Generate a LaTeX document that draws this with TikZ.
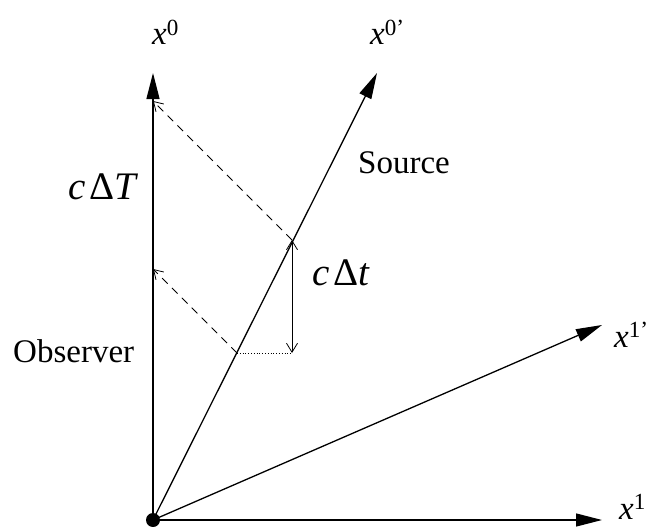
\documentclass[tikz,border=0pt]{standalone}
\usepackage{fontspec}
\setmainfont{Liberation Serif}
\usetikzlibrary{arrows.meta}
\begin{document}
\begin{tikzpicture}[x=1pt,y=-1pt,
  axis/.style={line width=1.3pt,-{Triangle[length=26pt,width=13pt]}},
  light/.style={line width=0.8pt,-{Straight Barb[length=9pt,width=11pt]}},
  lbl/.style={inner sep=0pt,anchor=base west,font=\fontsize{33}{40}\selectfont},
  big/.style={inner sep=0pt,anchor=base west,font=\fontsize{39}{46}\selectfont}]
\useasboundingbox (0,0) rectangle (648,527);
\coordinate (O) at (153,520);
\coordinate (t0) at (153,73);
\coordinate (t1) at (602,520);
\coordinate (t0p) at (377,73);
\coordinate (t1p) at (602,325);
\coordinate (A) at (292,240);
\coordinate (B) at (237,353);
\coordinate (Bv) at (292,353);
\coordinate (RA) at (153,101);
\coordinate (RB) at (153,269);
\draw[axis] (O) -- (t0);
\draw[axis] (O) -- (t1);
\draw[axis] (O) -- (t0p);
\draw[axis] (O) -- (t1p);
\draw[light,dash pattern=on 8pt off 6pt] (A) -- (RA);
\draw[light,dash pattern=on 8pt off 6pt] (B) -- (RB);
\draw[line width=0.8pt,{Straight Barb[length=9pt,width=11pt]}-{Straight Barb[length=9pt,width=11pt]}] (A) -- (Bv);
\draw[line width=0.8pt,dotted] (B) -- (Bv);
\fill (O) circle (7pt);
\node[lbl] (lx0) at (152,45) {\itshape x\upshape\textsuperscript{0}};
\node[lbl] (lx0p) at (370,45) {\itshape x\upshape\textsuperscript{0’}};
\node[lbl] (lx1p) at (614,347) {\itshape x\upshape\textsuperscript{1’}};
\node[lbl] (lx1) at (619,519) {\itshape x\upshape\textsuperscript{1}};
\node[lbl] (src) at (358,173) {Source};
\node[lbl] (obs) at (13,362) {Observer};
\node[big] (cT) at (68,199) {\itshape c\hspace{4pt}\upshape Δ\itshape T};
\node[big] (ct) at (312,285) {\itshape c\hspace{4pt}\upshape Δ\itshape t};
\end{tikzpicture}
\end{document}
